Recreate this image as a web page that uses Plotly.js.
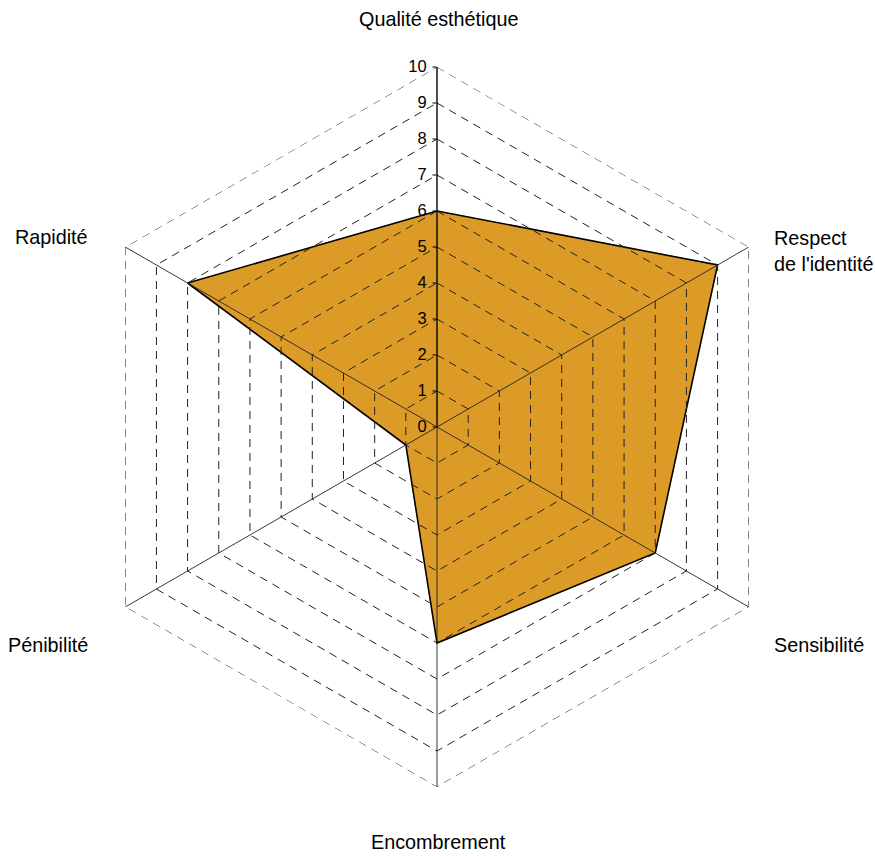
<!DOCTYPE html>
<html>
<head>
<meta charset="utf-8">
<script src="https://cdn.plot.ly/plotly-3.0.1.min.js"></script>
<style>html,body{margin:0;padding:0;background:#fff;}#chart{width:875px;height:856px;}</style>
</head>
<body>
<div id="chart"></div>
<script>
const categories = ["Qualité esthétique", "Respect<br>de l'identité", "Sensibilité", "Encombrement", "Pénibilité", "Rapidité"];
const values = [6, 9, 7, 6, 1, 8];
const levels = [1, 2, 3, 4, 5, 6, 7, 8, 9, 10];
const tickLabels = ["0", "1", "2", "3", "4", "5", "6", "7", "8", "9", "10"];
const tickValues = [0, 1, 2, 3, 4, 5, 6, 7, 8, 9, 10];

// figure geometry (layout only)
const W = 875, H = 856;
const M = {l: 77, r: 78, t: 67, b: 69};
const PW = W - M.l - M.r, PH = H - M.t - M.b;
const px = x => (x - M.l) / PW;
const py = y => (H - M.b - y) / PH;

const closedTheta = categories.concat([categories[0]]);
const traces = [];
traces.push({
  type: 'scatterpolar',
  r: values.concat([values[0]]),
  theta: closedTheta,
  mode: 'lines',
  fill: 'toself',
  fillcolor: '#DB9B26',
  line: {color: '#000', width: 1.6},
  hoverinfo: 'skip',
  showlegend: false
});
// grid drawn over the fill, as in the reference
levels.forEach(k => {
  traces.push({
    type: 'scatterpolar',
    r: closedTheta.map(() => k),
    theta: closedTheta,
    mode: 'lines',
    line: {color: '#222', width: 1, dash: '8px,6px'},
    hoverinfo: 'skip',
    showlegend: false
  });
});
categories.forEach(c => {
  traces.push({
    type: 'scatterpolar',
    r: [0, levels[levels.length - 1]],
    theta: [c, c],
    mode: 'lines',
    line: {color: '#222', width: 0.9},
    hoverinfo: 'skip',
    showlegend: false
  });
});

const labelFont = {size: 19.8, color: '#000', family: '"Liberation Sans", Arial, sans-serif'};
const annotations = [
  {text: categories[0], x: px(438), y: py(19), xanchor: 'center', yanchor: 'middle'},
  {text: categories[1], x: px(772), y: py(251), xanchor: 'left', yanchor: 'middle', align: 'left'},
  {text: categories[2], x: px(772), y: py(645), xanchor: 'left', yanchor: 'middle'},
  {text: categories[3], x: px(438), y: py(842), xanchor: 'center', yanchor: 'middle'},
  {text: categories[4], x: px(90), y: py(645), xanchor: 'right', yanchor: 'middle'},
  {text: categories[5], x: px(90), y: py(237), xanchor: 'right', yanchor: 'middle'}
].map(a => Object.assign({xref: 'paper', yref: 'paper', showarrow: false, font: labelFont}, a));

const layout = {
  width: W,
  height: H,
  margin: M,
  paper_bgcolor: '#fff',
  font: {family: '"Liberation Sans", Arial, sans-serif', color: '#000'},
  showlegend: false,
  annotations: annotations,
  polar: {
    domain: {x: [0, 1], y: [0, 1]},
    bgcolor: '#fff',
    gridshape: 'linear',
    radialaxis: {
      range: [0, 10],
      tickvals: tickValues,
      ticktext: tickLabels,
      angle: 90,
      tickangle: 90,
      side: 'counterclockwise',
      showline: true,
      linecolor: '#000',
      linewidth: 1,
      ticks: 'outside',
      ticklen: 4,
      tickcolor: '#000',
      showgrid: false,
      showticklabels: true,
      tickfont: {size: 16.5, color: '#000'},
      layer: 'above traces'
    },
    angularaxis: {
      type: 'category',
      categoryarray: categories,
      direction: 'clockwise',
      rotation: 90,
      showline: false,
      showgrid: false,
      ticks: '',
      showticklabels: false
    }
  }
};

Plotly.newPlot('chart', traces, layout, {displayModeBar: false, staticPlot: true});
</script>
</body>
</html>
